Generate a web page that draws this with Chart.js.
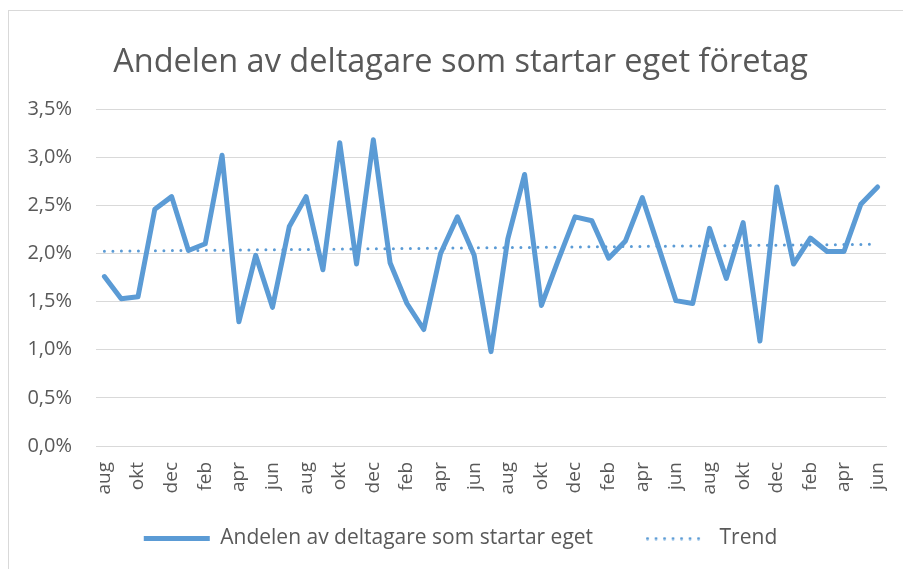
<!DOCTYPE html>
<html>
<head>
<meta charset="utf-8">
<script src="https://cdn.jsdelivr.net/npm/chart.js@4.4.1/dist/chart.umd.min.js"></script>
<style>
  html, body { margin: 0; padding: 0; background: #fff; }
  #wrap { position: relative; width: 903px; height: 569px; overflow: hidden; }
  #frame { position: absolute; left: 8px; top: 10px; width: 1000px; height: 700px;
           border-left: 1px solid #D9D9D9; border-top: 1px solid #D9D9D9; }
  #chart { position: absolute; left: 0; top: 0; }
</style>
</head>
<body>
<div id="wrap">
  <div id="frame"></div>
  <canvas id="chart" width="903" height="569"></canvas>
</div>
<script>
// ── DATA ─────────────────────────────────────────────────────
const months = [
  "aug","sep","okt","nov","dec","jan","feb","mar","apr","maj","jun","jul",
  "aug","sep","okt","nov","dec","jan","feb","mar","apr","maj","jun","jul",
  "aug","sep","okt","nov","dec","jan","feb","mar","apr","maj","jun","jul",
  "aug","sep","okt","nov","dec","jan","feb","mar","apr","maj","jun"
];
// andel i procent
const shareValues = [
  1.76, 1.53, 1.55, 2.46, 2.59, 2.03, 2.10, 3.02, 1.29, 1.98, 1.44, 2.28,
  2.59, 1.83, 3.15, 1.89, 3.18, 1.90, 1.48, 1.21, 2.00, 2.38, 1.98, 0.98,
  2.15, 2.82, 1.46, 1.93, 2.38, 2.34, 1.95, 2.13, 2.58, 2.05, 1.51, 1.48,
  2.26, 1.74, 2.32, 1.09, 2.69, 1.89, 2.16, 2.02, 2.02, 2.51, 2.69
];
const yTicks = [0, 0.5, 1.0, 1.5, 2.0, 2.5, 3.0, 3.5];

const seriesLabel = "Andelen av deltagare som startar eget";
const trendLabel = "Trend";
const titleText = "Andelen av deltagare som startar eget företag";

// linjär trend (minsta kvadrat) från serien, som Excel gör
function linearTrend(vals) {
  const n = vals.length;
  let sx = 0, sy = 0, sxy = 0, sxx = 0;
  vals.forEach((v, i) => { sx += i; sy += v; sxy += i * v; sxx += i * i; });
  const k = (n * sxy - sx * sy) / (n * sxx - sx * sx);
  const m = (sy - k * sx) / n;
  return vals.map((_, i) => m + k * i);
}
const trendValues = linearTrend(shareValues);

const TEXT = "#595959";
const BLUE = "#5B9BD5";
const FONT = "'Open Sans', Lato, sans-serif";

// prickad symbol för trend i legenden (legendens "line"-stil ritas alltid heldragen)
function dottedSwatch(w) {
  const c = document.createElement("canvas");
  c.width = w; c.height = 4;
  const g = c.getContext("2d");
  g.fillStyle = BLUE;
  for (let x = 1.5; x < w; x += 8.5) {
    g.beginPath(); g.arc(x, 2, 1.5, 0, Math.PI * 2); g.fill();
  }
  return c;
}
const trendSwatch = dottedSwatch(60);

// ta bort klippningen av axeltexterna så att etiketterna får gå utanför axelns ruta
const noLabelClip = s => { s._computeLabelArea = () => undefined; };

new Chart(document.getElementById("chart"), {
  type: "line",
  data: {
    labels: months,
    datasets: [
      {
        label: seriesLabel,
        data: shareValues,
        borderColor: BLUE,
        backgroundColor: BLUE,
        borderWidth: 5,
        pointRadius: 0,
        pointStyle: "line",
        tension: 0,
        borderJoinStyle: "round",
        borderCapStyle: "round",
      },
      {
        label: trendLabel,
        data: trendValues,
        borderColor: BLUE,
        backgroundColor: BLUE,
        borderWidth: 3,
        borderDash: [0, 8.5],
        borderCapStyle: "round",
        pointRadius: 0,
        pointStyle: "line",
      },
    ],
  },
  options: {
    responsive: false,
    animation: false,
    events: [],
    layout: { padding: { left: 35, right: 17, top: 0, bottom: 10 } },
    plugins: {
      title: {
        display: true,
        text: titleText,
        color: TEXT,
        font: { family: FONT, size: 32.5, weight: "normal" },
        padding: { top: 43, bottom: 27 },
      },
      legend: {
        position: "bottom",
        labels: {
          color: TEXT,
          font: { family: FONT, size: 21 },
          usePointStyle: true,
          pointStyleWidth: 66,
          boxHeight: 10,
          padding: 50,
          generateLabels: chart => {
            const items = Chart.defaults.plugins.legend.labels.generateLabels(chart);
            items.forEach(it => { if (it.datasetIndex === 1) it.pointStyle = trendSwatch; });
            return items;
          },
        },
      },
      tooltip: { enabled: false },
    },
    scales: {
      x: {
        offset: true,
        grid: { display: false, drawTicks: false },
        border: { display: true, color: "#D9D9D9", width: 1 },
        ticks: {
          color: TEXT,
          font: { family: FONT, size: 19 },
          autoSkip: false,
          minRotation: 90,
          maxRotation: 90,
          padding: 16,
          callback: (v, i) => (i % 2 === 0 ? months[i] : ""),
        },
        afterFit: s => {
          s.height = 32;
          s.paddingLeft = 0; s.paddingRight = 0;
          noLabelClip(s);
        },
      },
      y: {
        min: 0,
        max: 3.5,
        grid: { color: "#D9D9D9", lineWidth: 1, drawTicks: false },
        border: { display: false },
        afterBuildTicks: s => { s.ticks = yTicks.map(v => ({ value: v })); },
        ticks: {
          color: TEXT,
          font: { family: FONT, size: 20 },
          padding: 24,
          callback: v => v.toFixed(1).replace(".", ",") + "%",
        },
        afterFit: s => { s.width = 61; noLabelClip(s); },
      },
    },
  },
});
</script>
</body>
</html>
